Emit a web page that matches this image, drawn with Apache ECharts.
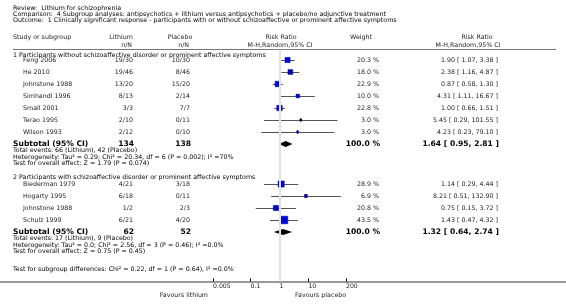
<!DOCTYPE html>
<html>
<head>
<meta charset="utf-8">
<script src="https://cdn.jsdelivr.net/npm/echarts@6/dist/echarts.min.js"></script>
<style>
  html, body { margin: 0; padding: 0; background: #fff; }
  #chart { width: 566px; height: 305px; }
</style>
</head>
<body>
<div id="chart"></div>
<script>
// subgroup 1: without schizoaffective disorder
const studies1 = ['Feng 2006', 'He 2010', 'Johnstone 1988', 'Simhandl 1996', 'Small 2001', 'Terao 1995', 'Wilson 1993']
const lithium1 = ['19/30', '19/46', '13/20', '8/13', '3/3', '2/10', '2/12']
const placebo1 = ['10/30', '8/46', '15/20', '2/14', '7/7', '0/11', '0/10']
const weight1 = [20.3, 18.0, 22.9, 10.0, 22.8, 3.0, 3.0]
const rr1 = [1.90, 2.38, 0.87, 4.31, 1.00, 5.45, 4.23]
const lo1 = [1.07, 1.16, 0.58, 1.11, 0.66, 0.29, 0.23]
const hi1 = [3.38, 4.87, 1.30, 16.67, 1.51, 101.55, 79.10]

// subgroup 2: with schizoaffective disorder
const studies2 = ['Biederman 1979', 'Hogarty 1995', 'Johnstone 1988', 'Schulz 1999']
const lithium2 = ['4/21', '6/18', '1/2', '6/21']
const placebo2 = ['3/18', '0/11', '2/3', '4/20']
const weight2 = [28.9, 6.9, 20.8, 43.5]
const rr2 = [1.14, 8.21, 0.75, 1.43]
const lo2 = [0.29, 0.51, 0.15, 0.47]
const hi2 = [4.44, 132.90, 3.72, 4.32]

// subtotals (group 1, group 2)
const subTotalLithium = [134, 62]
const subTotalPlacebo = [138, 52]
const subRR = [1.64, 1.32]
const subLo = [0.95, 0.64]
const subHi = [2.81, 2.74]

const groupTitles = [
  '1 Participants without schizoaffective disorder or prominent affective symptoms',
  '2 Participants with schizoaffective disorder or prominent affective symptoms'
]
const groupStats = [
  ['Total events: 66 (Lithium), 42 (Placebo)',
   'Heterogeneity: Tau² = 0.29; Chi² = 20.34, df = 6 (P = 0.002); I² =70%',
   'Test for overall effect: Z = 1.79 (P = 0.074)'],
  ['Total events: 17 (Lithium), 9 (Placebo)',
   'Heterogeneity: Tau² = 0.0; Chi² = 2.56, df = 3 (P = 0.46); I² =0.0%',
   'Test for overall effect: Z = 0.75 (P = 0.45)']
]
const subgroupTest = 'Test for subgroup differences: Chi² = 0.22, df = 1 (P = 0.64), I² =0.0%'
const tickValues = [0.005, 0.1, 1, 10, 200]

// layout: row slots (6px steps from plot top)
const rowSlots1 = [2, 4, 6, 8, 10, 12, 14]
const rowSlots2 = [22.67, 24.67, 26.67, 28.67]
const subSlots = [16, 30.67]
const titleSlots = [1.17, 21.6]
const statSlots = [[17.1, 18.2, 19.3], [31.8, 32.9, 33.95]]
const subgroupSlot = 36.9

const FONT = 'DejaVu Sans'
const FS = 6.3
const FSB = 7.6
const TXT = '#222'

const studyRows = [
  ...rr1.map((v, i) => ({ rr: v, lo: lo1[i], hi: hi1[i], w: weight1[i], slot: rowSlots1[i] })),
  ...rr2.map((v, i) => ({ rr: v, lo: lo2[i], hi: hi2[i], w: weight2[i], slot: rowSlots2[i] }))
]

const chart = echarts.init(document.getElementById('chart'))

const option = {
  animation: false,
  grid: { left: 213, width: 133, top: 48, height: 233.5 },
  xAxis: {
    type: 'log',
    logBase: 10,
    min: 0.005,
    max: 200,
    position: 'bottom',
    axisLine: { show: false, onZero: false },
    splitLine: { show: false },
    axisTick: { show: true, inside: true, length: 3, customValues: tickValues, lineStyle: { color: '#000', width: 1 } },
    axisLabel: {
      customValues: tickValues,
      formatter: (v) => String(v),
      align: 'left',
      margin: 2,
      fontSize: 6.2,
      fontFamily: FONT,
      color: TXT
    }
  },
  yAxis: {
    type: 'value',
    inverse: true,
    min: 0,
    max: 38.92,
    show: false
  },
  series: [
    {
      // confidence intervals
      type: 'custom',
      data: studyRows.map(r => [r.lo, r.hi, r.slot]),
      encode: { x: [0, 1], y: 2 },
      renderItem: (params, api) => {
        const a = api.coord([api.value(0), api.value(2)])
        const b = api.coord([api.value(1), api.value(2)])
        const y = Math.round(a[1]) + 0.5
        return {
          type: 'line',
          shape: { x1: a[0], y1: y, x2: b[0], y2: y },
          style: { stroke: '#555', lineWidth: 1 }
        }
      },
      markLine: {
        silent: true,
        symbol: 'none',
        label: { show: false },
        lineStyle: { color: '#e2e2e2', width: 2, type: 'solid' },
        data: [[{ coord: [1, 0.3] }, { coord: [1, 38.92] }]]
      },
      z: 2
    },
    {
      // weighted squares
      type: 'scatter',
      symbol: 'rect',
      data: studyRows.map(r => [r.rr, r.slot, r.w]),
      symbolSize: (v) => 1.15 * Math.sqrt(v[2]),
      itemStyle: { color: '#0000ff', borderColor: '#00008b', borderWidth: 0.5, opacity: 1 },
      z: 3
    },
    {
      // point estimate ticks
      type: 'scatter',
      symbol: 'rect',
      symbolSize: [1, 4],
      data: studyRows.map(r => [r.rr, r.slot]),
      itemStyle: { color: '#111', opacity: 1 },
      z: 4
    },
    {
      // subtotal diamonds
      type: 'custom',
      data: subRR.map((v, i) => [v, subLo[i], subHi[i], subSlots[i]]),
      encode: { x: [0, 1, 2], y: 3 },
      renderItem: (params, api) => {
        const c = api.coord([api.value(0), api.value(3)])
        const l = api.coord([api.value(1), api.value(3)])
        const r = api.coord([api.value(2), api.value(3)])
        const h = 3
        return {
          type: 'polygon',
          shape: { points: [[l[0], c[1]], [c[0], c[1] - h], [r[0], c[1]], [c[0], c[1] + h]] },
          style: { fill: '#000' }
        }
      },
      z: 3
    }
  ]
}

chart.setOption(option)

const py = (s) => chart.convertToPixel({ yAxisIndex: 0 }, s)
const txt = (x, y, text, opt = {}) => ({
  type: 'text',
  silent: true,
  style: {
    x, y, text,
    fill: opt.color || TXT,
    fontSize: opt.bold ? FSB : FS,
    fontWeight: opt.bold ? 'bold' : 'normal',
    fontFamily: FONT,
    align: opt.align || 'left',
    verticalAlign: 'middle'
  }
})

const g = []
// title block
g.push(txt(13, 8, 'Review:  Lithium for schizophrenia', { color: '#000' }))
g.push(txt(13, 14, 'Comparison:  4 Subgroup analyses: antipsychotics + lithium versus antipsychotics + placebo/no adjunctive treatment', { color: '#000' }))
g.push(txt(13, 20, 'Outcome:  1 Clinically significant response - participants with or without schizoaffective or prominent affective symptoms', { color: '#000' }))
// column headers
g.push(txt(13, 37, 'Study or subgroup'))
g.push(txt(121, 37, 'Lithium', { align: 'center' }))
g.push(txt(180, 37, 'Placebo', { align: 'center' }))
g.push(txt(281, 37, 'Risk Ratio', { align: 'center' }))
g.push(txt(361, 37, 'Weight', { align: 'center' }))
g.push(txt(477, 37, 'Risk Ratio', { align: 'center' }))
g.push(txt(132, 45, 'n/N', { align: 'right' }))
g.push(txt(189, 45, 'n/N', { align: 'right' }))
g.push(txt(280, 45, 'M-H,Random,95% CI', { align: 'center' }))
g.push(txt(468, 45, 'M-H,Random,95% CI', { align: 'center' }))
g.push({ type: 'line', silent: true, shape: { x1: 13, y1: 49.5, x2: 556, y2: 49.5 }, style: { stroke: '#777', lineWidth: 1 } })

const fmt = (v) => v.toFixed(2)
const groups = [
  { names: studies1, li: lithium1, pl: placebo1, w: weight1, rr: rr1, lo: lo1, hi: hi1, slots: rowSlots1 },
  { names: studies2, li: lithium2, pl: placebo2, w: weight2, rr: rr2, lo: lo2, hi: hi2, slots: rowSlots2 }
]
groups.forEach((grp, k) => {
  g.push(txt(13, py(titleSlots[k]), groupTitles[k], { color: '#000' }))
  grp.names.forEach((n, i) => {
    const y = py(grp.slots[i])
    g.push(txt(23, y, n))
    g.push(txt(133, y, grp.li[i], { align: 'right' }))
    g.push(txt(190, y, grp.pl[i], { align: 'right' }))
    g.push(txt(379, y, grp.w[i].toFixed(1) + ' %', { align: 'right' }))
    g.push(txt(498, y, fmt(grp.rr[i]) + ' [ ' + fmt(grp.lo[i]) + ', ' + fmt(grp.hi[i]) + ' ]', { align: 'right' }))
  })
  const ys = py(subSlots[k])
  g.push(txt(13, ys, 'Subtotal (95% CI)', { bold: true, color: '#000' }))
  g.push(txt(134, ys, String(subTotalLithium[k]), { bold: true, align: 'right', color: '#000' }))
  g.push(txt(191, ys, String(subTotalPlacebo[k]), { bold: true, align: 'right', color: '#000' }))
  g.push(txt(380, ys, '100.0 %', { bold: true, align: 'right', color: '#000' }))
  g.push(txt(499, ys, fmt(subRR[k]) + ' [ ' + fmt(subLo[k]) + ', ' + fmt(subHi[k]) + ' ]', { bold: true, align: 'right', color: '#000' }))
  groupStats[k].forEach((s, j) => g.push(txt(13, py(statSlots[k][j]), s, { color: '#000' })))
})
g.push(txt(13, py(subgroupSlot), subgroupTest, { color: '#000' }))
// bottom axis rule across the page
g.push({ type: 'line', silent: true, z: -1, shape: { x1: 0, y1: 282, x2: 566, y2: 282 }, style: { stroke: '#999', lineWidth: 2 } })
g.push(txt(208, 295, 'Favours lithium', { align: 'right' }))
g.push(txt(295, 295, 'Favours placebo'))

chart.setOption({ graphic: g })
</script>
</body>
</html>
